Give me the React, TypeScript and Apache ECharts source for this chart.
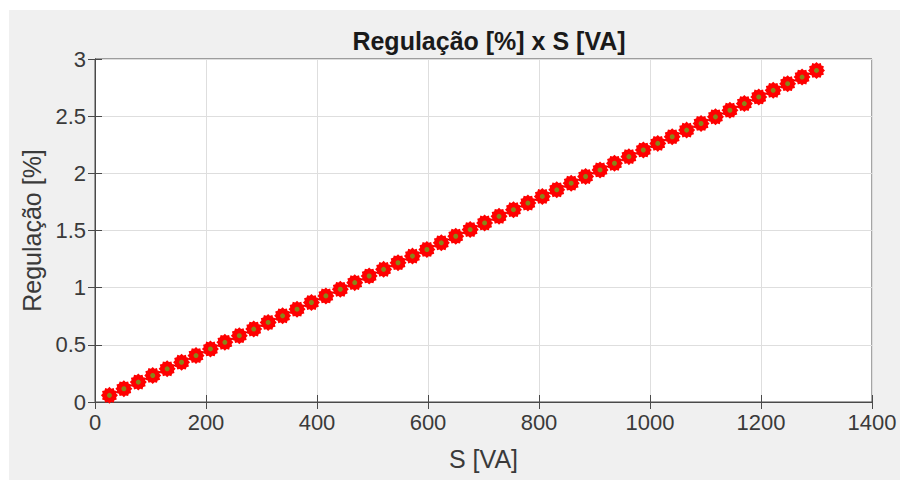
import React, { useEffect, useRef } from "react";
import * as echarts from "echarts";

const sValues = [26, 52, 78, 104, 130, 156, 182, 208, 234, 260, 286, 312, 338, 364, 390, 416, 442, 468, 494, 520, 546, 572, 598, 624, 650, 676, 702, 728, 754, 780, 806, 832, 858, 884, 910, 936, 962, 988, 1014, 1040, 1066, 1092, 1118, 1144, 1170, 1196, 1222, 1248, 1274, 1300];
const regValues = [0.058, 0.116, 0.174, 0.232, 0.29, 0.348, 0.406, 0.464, 0.522, 0.58, 0.638, 0.696, 0.754, 0.812, 0.87, 0.928, 0.986, 1.044, 1.102, 1.16, 1.218, 1.276, 1.334, 1.392, 1.45, 1.508, 1.566, 1.624, 1.682, 1.74, 1.798, 1.856, 1.914, 1.972, 2.03, 2.088, 2.146, 2.204, 2.262, 2.32, 2.378, 2.436, 2.494, 2.552, 2.61, 2.668, 2.726, 2.784, 2.842, 2.9];
const titleText = "Regulação [%] x S [VA]";
const xName = "S [VA]";
const yName = "Regulação [%]";

function gearPath(teeth: number, rOut: number, rIn: number): string {
  const pts: string[] = [];
  const n = teeth * 2;
  for (let i = 0; i < n; i++) {
    const r = i % 2 === 0 ? rOut : rIn;
    const a = (Math.PI * 2 * i) / n;
    pts.push(`${(50 + r * Math.cos(a)).toFixed(2)} ${(50 + r * Math.sin(a)).toFixed(2)}`);
  }
  return "path://M" + pts.join(" L") + " Z";
}

export default function App() {
  const ref = useRef<HTMLDivElement>(null);
  useEffect(() => {
    if (!ref.current) return;
    const chart = echarts.init(ref.current, undefined, { renderer: "svg" });
    const data = sValues.map((s, i) => [s, regValues[i]]);
    const font = "'Liberation Sans', Arial, Helvetica, sans-serif";
    const axisColor = "#4a4a4a";
    const textColor = "#3a3a3a";
    const plain = (v: number) => String(v);
    chart.setOption({
      animation: false,
      backgroundColor: "#ffffff",
      textStyle: { fontFamily: font },
      graphic: [
        {
          type: "rect",
          z: -10,
          silent: true,
          shape: { x: 9, y: 10, width: 891, height: 470 },
          style: { fill: "#f0f0f0" },
        },
      ],
      title: {
        text: titleText,
        left: 484,
        textAlign: "center",
        top: 23,
        textStyle: { fontFamily: font, fontSize: 25, fontWeight: "bold", color: "#1a1a1a" },
      },
      grid: { left: 95, top: 59, right: 28, bottom: 80, show: true, backgroundColor: "#ffffff", borderColor: axisColor, borderWidth: 1 },
      xAxis: [
        {
          type: "value",
          min: 0,
          max: 1400,
          interval: 200,
          position: "bottom",
          name: xName,
          nameLocation: "middle",
          nameGap: 44,
          nameTextStyle: { fontFamily: font, fontSize: 25, color: textColor },
          axisLine: { show: true, lineStyle: { color: axisColor, width: 1 } },
          axisTick: { show: true, inside: true, length: 7, lineStyle: { color: axisColor } },
          axisLabel: { fontFamily: font, fontSize: 22, color: textColor, margin: 9, formatter: plain },
          splitLine: { show: true, lineStyle: { color: "#dedede", width: 1 } },
        },
        {
          type: "value",
          min: 0,
          max: 1400,
          interval: 200,
          position: "top",
          axisLine: { show: true, lineStyle: { color: axisColor, width: 1 } },
          axisTick: { show: true, inside: true, length: 7, lineStyle: { color: axisColor } },
          axisLabel: { show: false },
          splitLine: { show: false },
        },
      ],
      yAxis: [
        {
          type: "value",
          min: 0,
          max: 3,
          interval: 0.5,
          position: "left",
          name: yName,
          nameLocation: "middle",
          nameGap: 47,
          nameTextStyle: { fontFamily: font, fontSize: 25, color: textColor },
          axisLine: { show: true, lineStyle: { color: axisColor, width: 1 } },
          axisTick: { show: true, inside: true, length: 7, lineStyle: { color: axisColor } },
          axisLabel: { fontFamily: font, fontSize: 22, color: textColor, margin: 9, formatter: plain },
          splitLine: { show: true, lineStyle: { color: "#dedede", width: 1 } },
        },
        {
          type: "value",
          min: 0,
          max: 3,
          interval: 0.5,
          position: "right",
          axisLine: { show: true, lineStyle: { color: axisColor, width: 1 } },
          axisTick: { show: true, inside: true, length: 7, lineStyle: { color: axisColor } },
          axisLabel: { show: false },
          splitLine: { show: false },
        },
      ],
      series: [
        {
          type: "line",
          xAxisIndex: 0,
          yAxisIndex: 0,
          data,
          lineStyle: { color: "#000000", width: 1 },
          symbol: gearPath(12, 50, 41),
          symbolSize: 17,
          showAllSymbol: true,
          itemStyle: { color: "#ff0000", borderWidth: 0 },
          z: 3,
        },
        {
          type: "scatter",
          xAxisIndex: 0,
          yAxisIndex: 0,
          data,
          symbol: "circle",
          symbolSize: 5,
          itemStyle: { color: "#6aa820" },
          z: 4,
        },
      ],
    });
    return () => chart.dispose();
  }, []);
  return (
    <div style={{ position: "fixed", left: 0, top: 0, width: 900, height: 482, background: "#fff" }}>
      <div ref={ref} style={{ width: 900, height: 482 }} />
    </div>
  );
}
